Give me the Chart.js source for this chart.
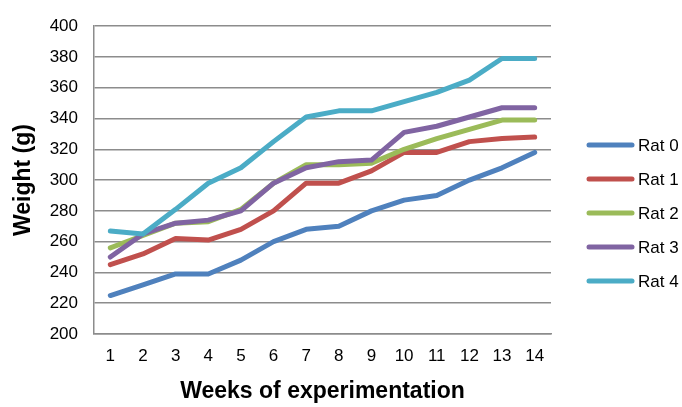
<!DOCTYPE html>
<html>
<head>
<meta charset="utf-8">
<script src="https://cdn.jsdelivr.net/npm/chart.js@4"></script>
<style>
  body { margin: 0; background: white; }
  #myChart { display: block; }
</style>
</head>
<body>
<canvas id="myChart" width="682" height="407"></canvas>
<script>
const weeks = ['1', '2', '3', '4', '5', '6', '7', '8', '9', '10', '11', '12', '13', '14']
const rat0 = [225, 232, 239, 239, 248, 260, 268, 270, 280, 287, 290, 300, 308, 318]
const rat1 = [245, 252, 262, 261, 268, 280, 298, 298, 306, 318, 318, 325, 327, 328]
const rat2 = [256, 264, 272, 273, 281, 298, 310, 310, 311, 320, 327, 333, 339, 339]
const rat3 = [250, 265, 272, 274, 280, 298, 308, 312, 313, 331, 335, 341, 347, 347]
const rat4 = [267, 265, 281, 298, 308, 325, 341, 345, 345, 351, 357, 365, 379, 379]
const serieNames = ['Rat 0', 'Rat 1', 'Rat 2', 'Rat 3', 'Rat 4']
const colores = ['#4F81BD', '#C0504D', '#9BBB59', '#8064A2', '#4BACC6']

const gridColor = '#8c8c8c'
const fontFamily = '"Liberation Sans", Arial, sans-serif'

const datasets = [rat0, rat1, rat2, rat3, rat4].map((data, i) => {
  return {
    label: serieNames[i],
    data,
    borderColor: colores[i],
    backgroundColor: colores[i],
    borderWidth: 5,
    borderCapStyle: 'round',
    borderJoinStyle: 'round',
    pointRadius: 0,
    tension: 0,
    order: 4 - i
  }
})

/* leyenda a la derecha, dibujada a mano */
const sideLegend = {
  id: 'sideLegend',
  afterDraw(chart) {
    const ctx = chart.ctx
    ctx.save()
    chart.data.datasets.forEach((ds, i) => {
      const y = 145 + i * 34
      ctx.strokeStyle = ds.borderColor
      ctx.lineWidth = 5
      ctx.lineCap = 'round'
      ctx.beginPath()
      ctx.moveTo(589, y)
      ctx.lineTo(632, y)
      ctx.stroke()
      ctx.fillStyle = '#000'
      ctx.font = '17px ' + fontFamily
      ctx.textBaseline = 'middle'
      ctx.fillText(ds.label, 638, y + 1)
    })
    ctx.restore()
  }
}

const whiteBg = {
  id: 'whiteBg',
  beforeDraw(chart) {
    const ctx = chart.ctx
    ctx.save()
    ctx.fillStyle = 'white'
    ctx.fillRect(0, 0, chart.width, chart.height)
    ctx.restore()
  }
}

const config = {
  type: 'line',
  data: { labels: weeks, datasets },
  options: {
    responsive: false,
    animation: false,
    layout: { padding: { top: 21, right: 131, left: 0, bottom: 0 } },
    plugins: {
      legend: { display: false },
      tooltip: { enabled: false }
    },
    scales: {
      x: {
        offset: true,
        grid: { display: false, drawTicks: false },
        border: { display: true, color: gridColor, width: 1.5 },
        ticks: { color: '#000', font: { family: fontFamily, size: 17 }, padding: 12, maxRotation: 0 },
        title: {
          display: true,
          text: 'Weeks of experimentation',
          color: '#000',
          font: { family: fontFamily, size: 23, weight: 'bold' },
          padding: { top: 10, bottom: 2 }
        },
        afterFit(scale) { scale.height = 73 }
      },
      y: {
        min: 200,
        max: 400,
        ticks: { stepSize: 20, color: '#000', font: { family: fontFamily, size: 17 }, padding: 16 },
        grid: { color: gridColor, lineWidth: 1.5, drawTicks: false },
        border: { display: true, color: gridColor, width: 1.5 },
        title: {
          display: true,
          text: 'Weight (g)',
          color: '#000',
          font: { family: fontFamily, size: 23, weight: 'bold' },
          padding: { top: 10, bottom: 0 }
        },
        afterFit(scale) { scale.width = 94 }
      }
    }
  },
  plugins: [whiteBg, sideLegend]
}

const myChart = document.getElementById('myChart')
new Chart(myChart, config)
</script>
</body>
</html>
